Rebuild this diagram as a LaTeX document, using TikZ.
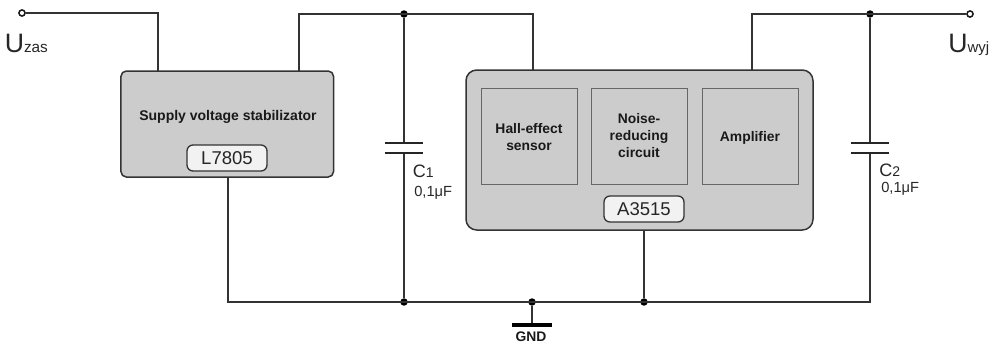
\documentclass[tikz,border=0pt]{standalone}
\usepackage{fontspec}
\setmainfont{Liberation Sans}
\definecolor{wire}{HTML}{333333}
\definecolor{fillg}{HTML}{CCCCCC}
\definecolor{chipf}{HTML}{F2F2F2}
\tikzset{
  wireline/.style={draw=wire,line width=1.05pt*0.75},
  plate/.style={draw=black!85,line width=1.6pt*0.75},
  dotj/.style={circle,fill=black,inner sep=0pt,minimum size=5.6pt},
  term/.style={circle,draw=black!90,fill=white,line width=1.5pt*0.75,inner sep=0pt,minimum size=4.6pt},
  mainbox/.style={draw=wire,fill=fillg,line width=1.5pt*0.75,inner sep=0pt},
  subbox/.style={draw=black!60,fill=fillg,line width=0.9pt*0.75,minimum width=72pt,minimum height=72pt,inner sep=0pt},
  subtext/.style={inner sep=0pt,align=center,font=\fontsize{10.4}{12.75}\selectfont\bfseries,text=black!90},
  chip/.style={draw=wire,fill=chipf,line width=1.3pt*0.75,rounded corners=4.5pt,minimum width=60pt,minimum height=19.5pt,inner sep=0pt,font=\fontsize{13.9}{15}\selectfont,text=black!85},
  lbl/.style={inner sep=0pt,anchor=base west,text=black!85},
}
\begin{document}
\begin{tikzpicture}[x=0.75pt,y=-0.75pt]
\useasboundingbox (0,0) rectangle (994,343);
% blocks
\node[mainbox,rounded corners=4pt,minimum width=159.4pt,minimum height=79.5pt] (stab) at (227.25,124) {};
\node[mainbox,rounded corners=8pt,minimum width=260.25pt,minimum height=120pt] (hallic) at (639.5,150) {};
\node[font=\fontsize{10.5}{12}\selectfont\bfseries,text=black!90,inner sep=0pt] (stabt) at (228,117) {Supply voltage stabilizator};
\node[chip] (l7805) at (227,158) {L7805};
\node[subbox] (hall) at (529,136) {};
\node[subbox] (noise) at (639,136) {};
\node[subbox] (amp) at (750,136) {};
\node[subtext] (hallt) at (529,137) {Hall-effect\\sensor};
\node[subtext] (noiset) at (639,136) {Noise-\\reducing\\circuit};
\node[subtext] (ampt) at (750,138) {Amplifier};
\node[chip] (a3515) at (644,209) {A3515};
% points
\node[term] (in) at (22,13) {};
\node[term] (out) at (970,14) {};
\coordinate (inc) at (158,13);
\coordinate (stabin) at (158,71);
\coordinate (stabout) at (299,71);
\coordinate (outc1) at (299,14);
\coordinate (hallin) at (533,70);
\coordinate (hallc) at (533,14);
\coordinate (ampout) at (752,70);
\coordinate (ampc) at (752,14);
\coordinate (gndl) at (228,302);
\coordinate (stabgnd) at (228,177);
\coordinate (gndr) at (870,302);
\coordinate (hallgnd) at (644,230);
\node[dotj] (j1) at (404,14) {};
\node[dotj] (j2) at (870,14) {};
\node[dotj] (j3) at (404,302) {};
\node[dotj] (j4) at (532,302) {};
\node[dotj] (j5) at (644,302) {};
\coordinate (c1a) at (404,143);
\coordinate (c1b) at (404,153);
\coordinate (c2a) at (870,143);
\coordinate (c2b) at (870,153);
\coordinate (gndbar) at (532,325);
% wires
\draw[wireline] (in) -- (inc) -- (stabin);
\draw[wireline] (stabout) -- (outc1) -- (hallc) -- (hallin);
\draw[wireline] (ampout) -- (ampc) -- (out);
\draw[wireline] (stabgnd) -- (gndl) -- (gndr) -- (c2b);
\draw[wireline] (j2) -- (c2a);
\draw[wireline] (j1) -- (c1a);
\draw[wireline] (c1b) -- (j3);
\draw[wireline] (hallgnd) -- (j5);
\draw[wireline] (j4) -- (gndbar);
% capacitor plates
\draw[plate] ([xshift=-14.5pt]c1a) -- ([xshift=14.5pt]c1a);
\draw[plate] ([xshift=-14.5pt]c1b) -- ([xshift=14.5pt]c1b);
\draw[plate] ([xshift=-14.5pt]c2a) -- ([xshift=14.5pt]c2a);
\draw[plate] ([xshift=-14.5pt]c2b) -- ([xshift=14.5pt]c2b);
\draw[black,line width=3pt] ([xshift=-15pt]gndbar) -- ([xshift=15pt]gndbar);
% labels
\node[lbl,font=\fontsize{20}{22}\selectfont] (uz) at (4.5,52) {U\fontsize{11.5}{12}\selectfont zas};
\node[lbl,font=\fontsize{20}{22}\selectfont] (uw) at (948,52) {U\fontsize{11.2}{12}\selectfont wyj};
\node[lbl,font=\fontsize{13.5}{14}\selectfont] (c1) at (412.5,177) {C\fontsize{10.5}{12}\selectfont 1};
\node[lbl,font=\fontsize{11}{12}\selectfont] (v1) at (414,196) {0,1μF};
\node[lbl,font=\fontsize{13.5}{14}\selectfont] (c2) at (879,176) {C\fontsize{10.5}{12}\selectfont 2};
\node[lbl,font=\fontsize{11}{12}\selectfont] (v2) at (881,192) {0,1μF};
\node[inner sep=0pt,font=\fontsize{10.4}{11}\selectfont\bfseries,text=black!90] (gnd) at (531,337) {GND};
\end{tikzpicture}
\end{document}
